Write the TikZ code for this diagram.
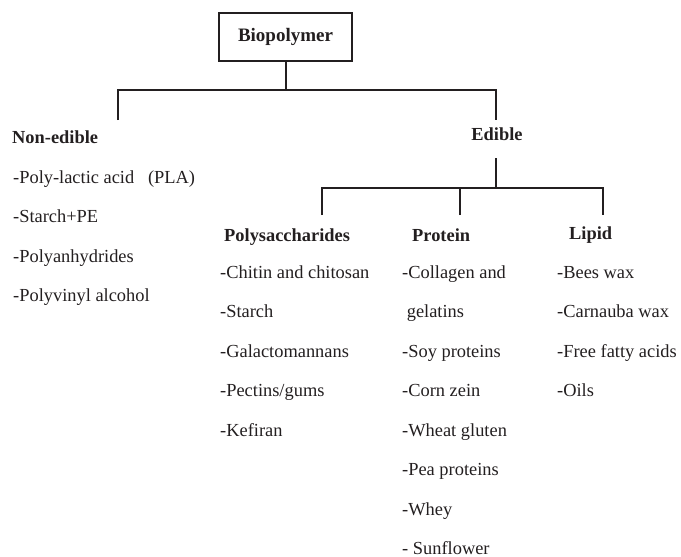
\documentclass[tikz,border=0pt]{standalone}
\usepackage{fontspec}
\setmainfont{Liberation Serif}
\usetikzlibrary{positioning, calc}
\definecolor{ink}{RGB}{35,31,32}

\tikzset{
  label/.style={inner sep=0pt, text=ink, anchor=base west, font=\fontsize{18.4}{22}\selectfont},
  head/.style={label, font=\fontsize{18.4}{22}\selectfont\bfseries},
  branch/.style={draw=ink, line width=2pt}
}

\begin{document}
\begin{tikzpicture}[x=1pt, y=-1pt]

      \useasboundingbox (0,0) rectangle (681,557);

      \node[draw=ink, line width=1.2pt, inner sep=0pt, minimum width=133pt, minimum height=48pt,
          text=ink, font=\fontsize{19}{22}\selectfont\bfseries] (bio) at (285.5, 37) {Biopolymer};

      \node[head] (nonedible) at (12, 143) {Non-edible};
      \node[head, anchor=base] (edible) at (497, 140) {Edible};
      \node[head] (poly) at (224, 241) {Polysaccharides};
      \node[head] (protein) at (412, 241) {Protein};
      \node[head] (lipid) at (569, 239) {Lipid};

      \coordinate (top) at (bio.south |- 0, 90);
      \coordinate (nonend) at (118, 120);
      \coordinate (edend) at (496, 120);
      \coordinate (sub) at (496, 188);
      \coordinate (polyend) at (322, 215);
      \coordinate (protend) at (460, 215);
      \coordinate (lipend) at (603, 215);

      \draw[branch] (bio.south) -- (top);
      \draw[branch] (nonend) -- (nonend |- top) -- (edend |- top) -- (edend);
      \draw[branch] (sub |- edible.south) ++(0, 18) -- (sub);
      \draw[branch] (polyend) -- (polyend |- sub) -- (lipend |- sub) -- (lipend);
      \draw[branch] (protend) -- (protend |- sub);

      \foreach \txt [count=\i] in {-Poly-lactic acid\ \ \ (PLA), -Starch+PE, -Polyanhydrides, -Polyvinyl alcohol}
        \node[label] (non\i) at (13, 143.5+39.5*\i) {\txt};

      \foreach \txt [count=\i] in {-Chitin and chitosan, -Starch, -Galactomannans, -Pectins/gums, -Kefiran}
        \node[label] (poly\i) at (220, 238.5+39.5*\i) {\txt};

      \foreach \txt [count=\i] in {-Collagen and, \ gelatins, -Soy proteins, -Corn zein, -Wheat gluten,
          -Pea proteins, -Whey, - Sunflower}
        \node[label] (prot\i) at (402, 238.5+39.5*\i) {\txt};

      \foreach \txt [count=\i] in {-Bees wax, -Carnauba wax, -Free fatty acids, -Oils}
        \node[label] (lip\i) at (557, 238.5+39.5*\i) {\txt};

\end{tikzpicture}
\end{document}
